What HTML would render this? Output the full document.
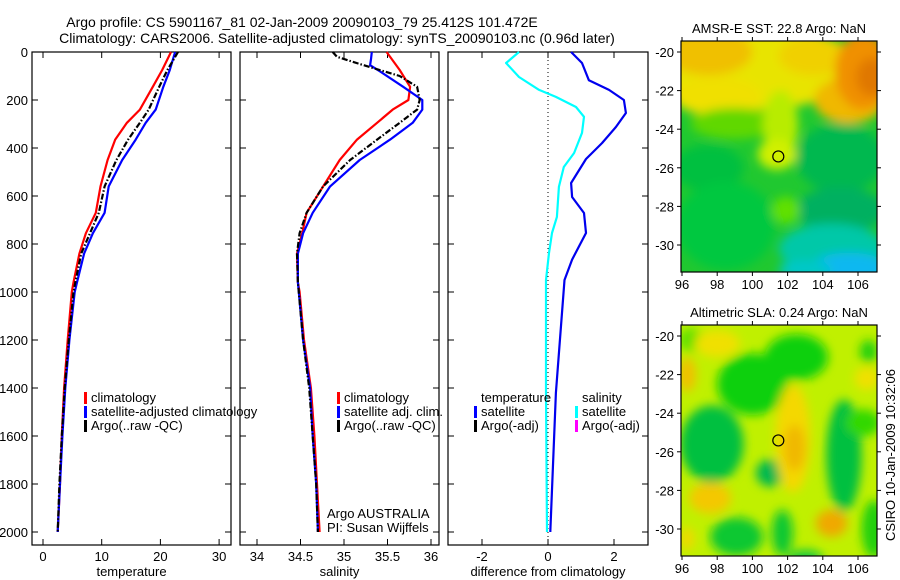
<!DOCTYPE html>
<html><head><meta charset="utf-8"><style>
body{margin:0;background:#fff;}
svg{display:block;font-family:"Liberation Sans",sans-serif;}
</style></head><body>
<svg id="fig" width="900" height="580" viewBox="0 0 900 580">
<defs>
<filter id="blur5" x="-20%" y="-20%" width="140%" height="140%"><feGaussianBlur stdDeviation="5"/></filter>
<clipPath id="clipM1"><rect x="681" y="41" width="196" height="231"/></clipPath>
<clipPath id="clipM2"><rect x="681" y="325" width="196" height="231"/></clipPath>
</defs>
<text x="302" y="27" font-size="14" text-anchor="middle">Argo profile: CS 5901167_81 02-Jan-2009 20090103_79 25.412S 101.472E</text>
<text x="337" y="43" font-size="14" text-anchor="middle">Climatology: CARS2006. Satellite-adjusted climatology: synTS_20090103.nc (0.96d later)</text>
<g id="plots"></g>
<g id="maps"></g>
<text transform="translate(895,455) rotate(-90)" font-size="13" text-anchor="middle">CSIRO 10-Jan-2009 10:32:06</text>
</svg>
<script>
// ---- data ----
const depthTicks = [0,200,400,600,800,1000,1200,1400,1600,1800,2000];
const tempTicks = [0,10,20,30];
const salTicks = [34,34.5,35,35.5,36];
const diffTicks = [-2,0,2];

const tClimDepth = [0,75,145,240,295,365,450,560,670,755,840,960,1000,1200,1400,1600,1800,2000];
const tClim      = [21.8,20.3,18.7,16.5,14.3,12.3,11,9.8,9,7.3,6.2,5.2,4.9,4.2,3.6,3.2,2.9,2.5];
const tSat       = [22.5,21.6,20.5,19.2,17.5,15.8,13.5,11.2,10.5,8.5,7,5.8,5.4,4.5,3.8,3.3,2.9,2.5];
const tArgo      = [23,21.2,19.8,18,16.5,14.5,12.5,10.5,9.5,8,6.5,5.5,5.2,4.4,3.7,3.2,2.8,2.5];

const sClimDepth = [0,75,145,200,240,295,365,450,560,670,755,840,960,1000,1200,1400,1600,1800,2000];
const sClim      = [35.49,35.64,35.76,35.74,35.56,35.38,35.15,34.95,34.76,34.57,34.52,34.46,34.47,34.49,34.54,34.62,34.66,34.69,34.72];
const sSatDepth  = [0,30,55,80,145,200,240,295,365,450,560,670,755,840,960,1000,1200,1400,1600,1800,2000];
const sSat       = [35.32,35.31,35.30,35.41,35.68,35.90,35.90,35.79,35.53,35.18,34.84,34.64,34.53,34.47,34.47,34.48,34.53,34.61,34.64,34.68,34.70];
const sArgoDepth = [0,20,50,100,145,200,240,295,365,450,560,670,755,840,960,1000,1200,1400,1600,1800,2000];
const sArgo      = [34.87,34.92,35.18,35.64,35.84,35.87,35.84,35.64,35.38,35.07,34.76,34.57,34.49,34.46,34.47,34.48,34.53,34.60,34.64,34.68,34.70];

const dSalDepth  = [0,46,104,158,187,229,270,337,421,479,562,687,754,837,950,1420,2000];
const dSal       = [-0.88,-1.27,-0.88,-0.27,0.24,0.85,1.09,1.03,0.79,0.48,0.33,0.27,0.12,0.03,-0.06,-0.06,-0.03];
const dTempDepth = [0,46,118,158,200,254,312,379,446,546,604,671,754,865,950,1420,2000];
const dTemp      = [0.7,1.03,1.24,1.85,2.3,2.36,2.06,1.64,1.15,0.7,0.73,1.09,1.15,0.73,0.5,0.24,0.07];

const lonTicks = [96,98,100,102,104,106];
const latTicks = [-20,-22,-24,-26,-28,-30];
const argoLon = 101.472, argoLat = -25.412;

// ---- helpers ----
const NS='http://www.w3.org/2000/svg';
function mk(tag, attrs, parent){const e=document.createElementNS(NS,tag);for(const k in attrs)e.setAttribute(k,attrs[k]);parent.appendChild(e);return e;}
const yD = d => 52 + 0.24*d;
const xT = t => 43 + 5.87*t;
const xS = s => 257 + 87*(s-34);
const xDf = v => 548 + 33*v;
const plots = document.getElementById('plots');

function panel(x0,x1,ticks,xf,fmt,title,nm,showY){
  const g=mk('g',{},plots);
  
  
  const r=mk('rect',{x:x0,y:52,width:x1-x0,height:493,fill:'none',stroke:'#000','stroke-width':1.2},g);
  
  
  ticks.forEach(t=>{
    const x=xf(t);
    mk('line',{x1:x,x2:x,y1:545,y2:539,stroke:'#000'},g);
    mk('line',{x1:x,x2:x,y1:52,y2:58,stroke:'#000'},g);
    const tx=mk('text',{x:x,y:561,'font-size':13,'text-anchor':'middle'},g);
    tx.textContent=fmt(t);
    
    
  });
  depthTicks.forEach(d=>{
    const y=yD(d);
    mk('line',{x1:x0,x2:x0+6,y1:y,y2:y,stroke:'#000'},g);
    mk('line',{x1:x1,x2:x1-6,y1:y,y2:y,stroke:'#000'},g);
    if(showY){
      const tx=mk('text',{x:28,y:y+5,'font-size':13,'text-anchor':'end'},g);
      tx.textContent=d;
      
      
    }
  });
  const tt=mk('text',{x:(x0+x1)/2,y:576,'font-size':13,'text-anchor':'middle'},g);
  tt.textContent=title;
  
  
  return g;
}
function line(g,vals,depths,xf,color,nm,dash){
  const pts=vals.map((v,i)=>xf(v).toFixed(1)+','+yD(depths[i]).toFixed(1)).join(' ');
  const p=mk('polyline',{points:pts,fill:'none',stroke:color,'stroke-width':2.2,'stroke-linejoin':'round'},g);
  if(dash)p.setAttribute('stroke-dasharray',dash);
  
  
}
function legend(g,x,y,color,label,nm){
  if(color){const b=mk('rect',{x:x-7,y:y-10,width:3,height:12,fill:color},g);
    
    }
  const t=mk('text',{x:x,y:y,'font-size':13},g);
  t.textContent=label;
  
  
}

// temperature panel
const g1=panel(32,231,tempTicks,xT,String,'temperature','temperature',true);
line(g1,tClim,tClimDepth,xT,'#f00','temperature-climatology-line');
line(g1,tSat,tClimDepth,xT,'#00f','temperature-satellite-line');
line(g1,tArgo,tClimDepth,xT,'#000','temperature-argo-line','6,2,1.5,2');
legend(g1,91,402,'#f00','climatology','legend-entry-climatology');
legend(g1,91,416,'#00f','satellite-adjusted climatology','legend-entry-satellite');
legend(g1,91,430,'#000','Argo(..raw -QC)','legend-entry-argo');

// salinity panel
const g2=panel(240,439,salTicks,xS,String,'salinity','salinity',false);
line(g2,sClim,sClimDepth,xS,'#f00','salinity-climatology-line');
line(g2,sSat,sSatDepth,xS,'#00f','salinity-satellite-line');
line(g2,sArgo,sArgoDepth,xS,'#000','salinity-argo-line','6,2,1.5,2');
legend(g2,344,402,'#f00','climatology','legend-entry-climatology');
legend(g2,344,416,'#00f','satellite adj. clim.','legend-entry-satellite');
legend(g2,344,430,'#000','Argo(..raw -QC)','legend-entry-argo');
legend(g2,327,518,null,'Argo AUSTRALIA','argo-australia-label');
legend(g2,327,532,null,'PI: Susan Wijffels','pi-label');

// difference panel
const g3=panel(448,648,diffTicks,xDf,String,'difference from climatology','difference',false);
mk('line',{x1:xDf(0),x2:xDf(0),y1:52,y2:545,stroke:'#000','stroke-dasharray':'1,3'},g3);
line(g3,dSal,dSalDepth,xDf,'#00ffff','salinity-difference-line');
line(g3,dTemp,dTempDepth,xDf,'#0000ee','temperature-difference-line');
legend(g3,481,402,null,'temperature','legend-title-temperature');
legend(g3,481,416,'#00f','satellite','legend-entry-temp-satellite');
legend(g3,481,430,'#000','Argo(-adj)','legend-entry-temp-argo');
legend(g3,582,402,null,'salinity','legend-title-salinity');
legend(g3,582,416,'#00ffff','satellite','legend-entry-sal-satellite');
legend(g3,582,430,'#ff00ff','Argo(-adj)','legend-entry-sal-argo');

// ---- maps ----
const maps=document.getElementById('maps');
function mapFrame(top, bottom, zeroY, title, nm, blobs, base, clip){
  const xL = lon => 682 + 17.6*(lon-96);
  const yL = lat => zeroY + 19.3*(-20-lat);
  const g=mk('g',{},maps);
  
  
  const inner=mk('g',{'clip-path':'url(#'+clip+')'},g);
  mk('rect',{x:681,y:top,width:196,height:bottom-top,fill:base},inner);
  const bg=mk('g',{filter:'url(#blur5)'},inner);
  blobs.forEach(b=>{
    mk('ellipse',{cx:xL(b[0]),cy:yL(b[1]),rx:17.6*b[2],ry:19.3*b[3],fill:b[4]},bg);
  });
  const fr=mk('rect',{x:681,y:top,width:196,height:bottom-top,fill:'none',stroke:'#000','stroke-width':1.2},g);
  
  
  lonTicks.forEach(l=>{
    const x=xL(l);
    mk('line',{x1:x,x2:x,y1:bottom,y2:bottom+4,stroke:'#000'},g);
    mk('line',{x1:x,x2:x,y1:top,y2:top-4,stroke:'#000'},g);
    const t=mk('text',{x:x,y:bottom+17,'font-size':13,'text-anchor':'middle'},g);
    t.textContent=l;
    
    
  });
  latTicks.forEach(l=>{
    const y=yL(l);
    mk('line',{x1:681,x2:677,y1:y,y2:y,stroke:'#000'},g);
    mk('line',{x1:877,x2:881,y1:y,y2:y,stroke:'#000'},g);
    const t=mk('text',{x:674,y:y+5,'font-size':13,'text-anchor':'end'},g);
    t.textContent=l;
    
    
  });
  const c=mk('circle',{cx:xL(argoLon),cy:yL(argoLat),r:5.5,fill:'none',stroke:'#000','stroke-width':1.2},g);
  
  
  const tt=mk('text',{x:779,y:top-8,'font-size':13,'text-anchor':'middle'},g);
  tt.textContent=title;
  
  
}
// blobs: [lon, lat, rxDeg, ryDeg, color]
const sstBlobs=[
 [100,-20.8,6,2.2,'#e8e400'],[97.5,-20,2.5,1.2,'#f0c000'],[103.5,-20.2,2,1,'#f0d000'],
 [98,-22.3,2.5,1,'#f0e000'],[105.5,-22.5,2,1.2,'#f0b800'],
 [106.3,-21,1.6,2,'#f09000'],[106.8,-21.3,0.9,1,'#e07800'],
 [99,-23.7,2.5,0.8,'#60d800'],[101.6,-23.8,1,1.8,'#b8ec00'],
 [101.4,-25.3,1.1,0.8,'#d0f000'],[97.5,-26,2,1.2,'#00c040'],[105,-25.5,2.5,1.8,'#00b850'],
 [98.5,-29,2.8,2.3,'#00c840'],[105,-28.2,2.5,1.2,'#00b060'],[104.5,-30.2,3,1.3,'#00c8a8'],
 [105.5,-31.2,2.2,0.8,'#10b8f0'],[103,-31.3,1.5,0.5,'#00c8c8'],[101.9,-28.2,0.8,0.7,'#60e000']
];
const slaBlobs=[
 [100,-22.5,2,1.6,'#10d010'],[102.5,-21.1,1.8,1.2,'#10d010'],[105.2,-26.2,1,2.9,'#00c040'],
 [97.7,-25.6,1.8,2,'#00c040'],[101,-27.1,0.8,0.7,'#00b850'],[99.1,-30.4,1.5,1,'#10c830'],
 [101.7,-30.2,0.6,1.2,'#10c830'],[106.9,-30,0.7,1.5,'#20d010'],[106.6,-20.8,0.5,0.6,'#20d010'],
 [96.5,-20.2,0.7,0.6,'#60e000'],[106.3,-24.5,1,0.7,'#30d800'],[103,-31.5,1,0.4,'#10c840'],
 [102.3,-25.3,1,2.8,'#f4d800'],[102.4,-25.8,0.6,1.2,'#f0b800'],[97.6,-28.4,1.2,0.8,'#f4c800'],
 [104.5,-29.7,0.9,0.7,'#f0a800'],[96.3,-22,0.5,0.9,'#f0c000'],[98,-20.4,1.3,0.7,'#f0e000'],
 [106.5,-22.2,0.7,0.6,'#f0e000'],[96.3,-30.5,0.4,0.6,'#f0d800']
];
mapFrame(41,272,52,'AMSR-E SST: 22.8 Argo: NaN','sst-map',sstBlobs,'#20c830','clipM1');
mapFrame(325,556,336,'Altimetric SLA: 0.24 Argo: NaN','sla-map',slaBlobs,'#c0f000','clipM2');
</script>
</body></html>
